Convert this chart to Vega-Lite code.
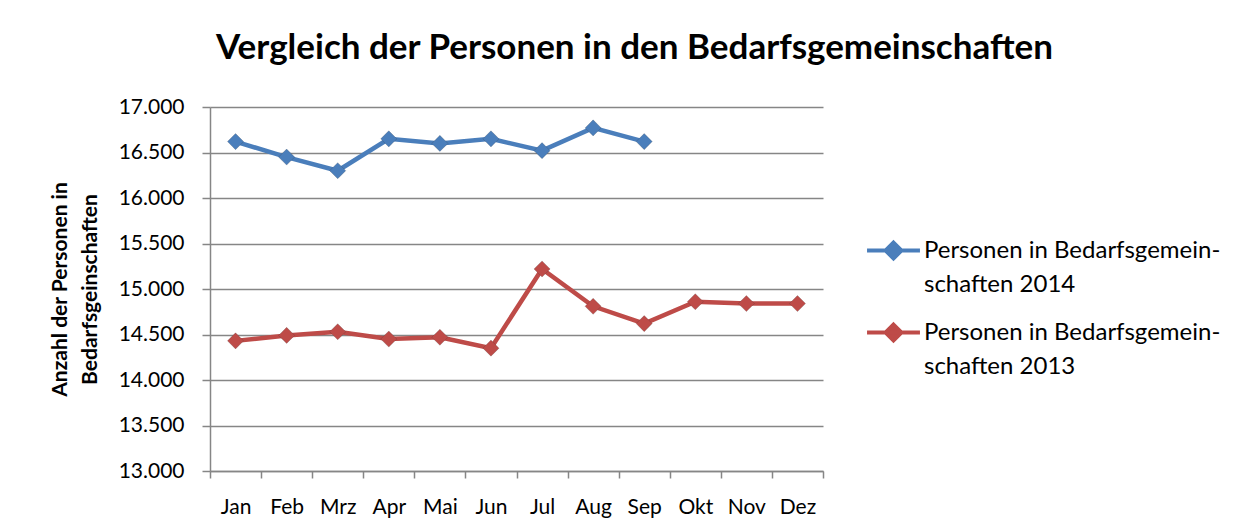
{
  "$schema": "https://vega.github.io/schema/vega-lite/v6.json",
  "width": 613,
  "height": 364,
  "autosize": {"type": "none"},
  "padding": {"left": 210, "top": 107, "right": 424, "bottom": 60},
  "background": "#ffffff",
  "title": {
    "text": "Vergleich der Personen in den Bedarfsgemeinschaften",
    "font": "Lato",
    "fontSize": 35,
    "fontWeight": "bold",
    "color": "#000000",
    "anchor": "middle",
    "frame": "group",
    "dx": 118,
    "baseline": "alphabetic",
    "offset": 2
  },
  "data": {
    "values": [
      {"monat": "Jan", "serie": "Personen in Bedarfsgemein-|schaften 2014", "wert": 16620},
      {"monat": "Feb", "serie": "Personen in Bedarfsgemein-|schaften 2014", "wert": 16450},
      {"monat": "Mrz", "serie": "Personen in Bedarfsgemein-|schaften 2014", "wert": 16300},
      {"monat": "Apr", "serie": "Personen in Bedarfsgemein-|schaften 2014", "wert": 16650},
      {"monat": "Mai", "serie": "Personen in Bedarfsgemein-|schaften 2014", "wert": 16600},
      {"monat": "Jun", "serie": "Personen in Bedarfsgemein-|schaften 2014", "wert": 16650},
      {"monat": "Jul", "serie": "Personen in Bedarfsgemein-|schaften 2014", "wert": 16520},
      {"monat": "Aug", "serie": "Personen in Bedarfsgemein-|schaften 2014", "wert": 16770},
      {"monat": "Sep", "serie": "Personen in Bedarfsgemein-|schaften 2014", "wert": 16620},
      {"monat": "Jan", "serie": "Personen in Bedarfsgemein-|schaften 2013", "wert": 14430},
      {"monat": "Feb", "serie": "Personen in Bedarfsgemein-|schaften 2013", "wert": 14490},
      {"monat": "Mrz", "serie": "Personen in Bedarfsgemein-|schaften 2013", "wert": 14530},
      {"monat": "Apr", "serie": "Personen in Bedarfsgemein-|schaften 2013", "wert": 14450},
      {"monat": "Mai", "serie": "Personen in Bedarfsgemein-|schaften 2013", "wert": 14470},
      {"monat": "Jun", "serie": "Personen in Bedarfsgemein-|schaften 2013", "wert": 14350},
      {"monat": "Jul", "serie": "Personen in Bedarfsgemein-|schaften 2013", "wert": 15220},
      {"monat": "Aug", "serie": "Personen in Bedarfsgemein-|schaften 2013", "wert": 14810},
      {"monat": "Sep", "serie": "Personen in Bedarfsgemein-|schaften 2013", "wert": 14620},
      {"monat": "Okt", "serie": "Personen in Bedarfsgemein-|schaften 2013", "wert": 14860},
      {"monat": "Nov", "serie": "Personen in Bedarfsgemein-|schaften 2013", "wert": 14840},
      {"monat": "Dez", "serie": "Personen in Bedarfsgemein-|schaften 2013", "wert": 14840}
    ]
  },
  "encoding": {
    "x": {
      "field": "monat",
      "type": "ordinal",
      "sort": ["Jan", "Feb", "Mrz", "Apr", "Mai", "Jun", "Jul", "Aug", "Sep", "Okt", "Nov", "Dez"],
      "scale": {"type": "band", "paddingInner": 0, "paddingOuter": 0, "domain": ["Jan", "Feb", "Mrz", "Apr", "Mai", "Jun", "Jul", "Aug", "Sep", "Okt", "Nov", "Dez"]},
      "axis": {
        "title": null,
        "labelAngle": 0,
        "tickBand": "extent",
        "grid": false,
        "domainColor": "#868686",
        "domainWidth": 1.5,
        "tickColor": "#868686",
        "tickWidth": 1.5,
        "tickSize": 7,
        "labelPadding": 18,
        "labelFont": "Lato",
        "labelFontSize": 21,
        "labelColor": "#000000"
      }
    },
    "y": {
      "field": "wert",
      "type": "quantitative",
      "scale": {"domain": [13000, 17000], "nice": false, "zero": false},
      "axis": {
        "values": [13000, 13500, 14000, 14500, 15000, 15500, 16000, 16500, 17000],
        "labelExpr": "replace(format(datum.value, ',.0f'), ',', '.')",
        "title": ["Anzahl der Personen in", "Bedarfsgeinschaften"],
        "titleFont": "Lato",
        "titleFontSize": 21,
        "titleFontWeight": "bold",
        "titleColor": "#000000",
        "titleLineHeight": 30,
        "titleAngle": -90,
        "titleX": -150,
        "titleY": 182,
        "titleAlign": "center",
        "titleBaseline": "middle",
        "grid": true,
        "gridColor": "#868686",
        "gridWidth": 1.5,
        "domainColor": "#868686",
        "domainWidth": 1.5,
        "tickColor": "#868686",
        "tickWidth": 1.5,
        "tickSize": 8,
        "labelPadding": 18,
        "labelFont": "Lato",
        "labelFontSize": 21,
        "labelColor": "#000000"
      }
    },
    "color": {
      "field": "serie",
      "type": "nominal",
      "sort": ["Personen in Bedarfsgemein-|schaften 2014", "Personen in Bedarfsgemein-|schaften 2013"],
      "scale": {
        "domain": ["Personen in Bedarfsgemein-|schaften 2014", "Personen in Bedarfsgemein-|schaften 2013"],
        "range": ["#4A7EBB", "#BE4B48"]
      },
      "legend": {
        "title": null,
        "orient": "none",
        "legendX": 655,
        "legendY": 115,
        "labelExpr": "split(datum.label, '|')",
        "labelFont": "Lato",
        "labelFontSize": 24,
        "labelColor": "#000000",
        "labelLimit": 500,
        "labelOffset": 2,
        "rowPadding": 7,
        "symbolType": "M-1,0H1M0,-0.3L0.3,0L0,0.3L-0.3,0Z",
        "symbolSize": 2800,
        "symbolStrokeWidth": 4,
        "encode": {"labels": {"update": {"lineHeight": {"value": 34}}}}
      }
    }
  },
  "layer": [
    {"mark": {"type": "line", "strokeWidth": 4.5}},
    {"mark": {"type": "point", "shape": "diamond", "filled": true, "size": 260, "opacity": 1, "stroke": "#333333", "strokeWidth": 0.5, "strokeOpacity": 0.4}}
  ],
  "config": {"view": {"stroke": null}}
}
